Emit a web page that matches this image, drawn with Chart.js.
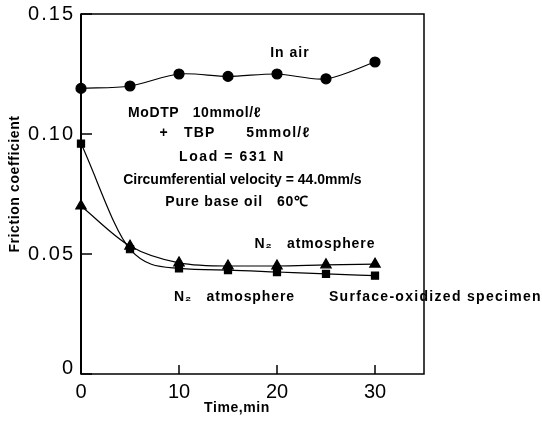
<!DOCTYPE html>
<html>
<head>
<meta charset="utf-8">
<script src="https://cdn.jsdelivr.net/npm/chart.js@4.4.0/dist/chart.umd.min.js"></script>
<style>
  html, body { margin: 0; padding: 0; background: #fff; }
  #wrap { width: 542px; height: 429px; }
</style>
</head>
<body>
<div id="wrap"><canvas id="myChart"></canvas></div>
<script>
let times = [0, 5, 10, 15, 20, 25, 30];
let in_air = [0.119, 0.120, 0.125, 0.124, 0.125, 0.123, 0.130];
let n2_atmosphere = [0.070, 0.0533, 0.0463, 0.045, 0.045, 0.0455, 0.0458];
let surface_oxidized = [0.096, 0.052, 0.044, 0.0433, 0.0425, 0.0417, 0.041];
let x_ticks = [0, 10, 20, 30];
let y_ticks = [0, 0.05, 0.10, 0.15];
let y_tick_labels = ['0', '0.05', '0.10', '0.15'];

let notes = [
    { text: 'In air', x: 19.3, y: 0.1335, sp: 1 },
    { text: 'MoDTP   10mmol/ℓ', x: 4.8, y: 0.1085, sp: 0.6 },
    { text: '+   TBP      5mmol/ℓ', x: 8.0, y: 0.1005, sp: 1.2 },
    { text: 'Load = 631 N', x: 10.0, y: 0.0905, sp: 1.6 },
    { text: 'Circumferential velocity = 44.0mm/s', x: 4.3, y: 0.0808, sp: 0 },
    { text: 'Pure base oil   60℃', x: 8.6, y: 0.0718, sp: 0.8 },
    { text: 'N₂   atmosphere', x: 17.7, y: 0.0542, sp: 0.9 },
    { text: 'N₂   atmosphere', x: 9.5, y: 0.0322, sp: 0.9 },
    { text: 'Surface-oxidized specimen', x: 25.3, y: 0.0322, sp: 1.3 }
];

function pts(ys) {
    return times.map(function (t, i) { return { x: t, y: ys[i] }; });
}

const FONT = '"Liberation Sans", Arial, sans-serif';

let frame = {
    id: 'frame',
    afterDraw: function (chart) {
        let c = chart.ctx;
        let a = chart.chartArea;
        let xs = chart.scales.x;
        let ys = chart.scales.y;
        c.save();
        c.strokeStyle = '#000';
        c.fillStyle = '#000';
        c.lineWidth = 1.5;
        c.strokeRect(a.left, a.top, a.right - a.left, a.bottom - a.top);
        c.lineWidth = 2;
        c.beginPath();
        c.moveTo(a.left, a.top);
        c.lineTo(a.left, a.bottom);
        c.stroke();
        c.lineWidth = 1.5;
        x_ticks.forEach(function (v) {
            let px = xs.getPixelForValue(v);
            c.beginPath();
            c.moveTo(px, a.bottom);
            c.lineTo(px, a.bottom - 9);
            c.stroke();
        });
        // y ticks and their labels
        c.font = '20px ' + FONT;
        c.letterSpacing = '2px';
        c.textAlign = 'right';
        c.textBaseline = 'middle';
        y_ticks.forEach(function (v, i) {
            let py = ys.getPixelForValue(v);
            c.beginPath();
            c.moveTo(a.left, py);
            c.lineTo(a.left + 11, py);
            c.stroke();
            c.fillText(y_tick_labels[i], a.left - 6, Math.min(py, a.bottom - 6));
        });
        // axis titles
        c.font = 'bold 14px ' + FONT;
        c.letterSpacing = '0.6px';
        c.textAlign = 'center';
        c.fillText('Time,min', 237, 408);
        c.save();
        c.translate(15, 184);
        c.rotate(-Math.PI / 2);
        c.fillText('Friction coefficient', 0, 0);
        c.restore();
        // notes in the plot
        c.textAlign = 'left';
        notes.forEach(function (n) {
            c.letterSpacing = n.sp + 'px';
            c.fillText(n.text, xs.getPixelForValue(n.x), ys.getPixelForValue(n.y));
        });
        c.restore();
    }
};

let ctx = document.getElementById('myChart');
new Chart(ctx, {
    type: 'line',
    data: {
        datasets: [
            {
                label: 'In air',
                data: pts(in_air),
                borderColor: '#000',
                backgroundColor: '#000',
                borderWidth: 1.2,
                pointStyle: 'circle',
                pointRadius: 5,
                tension: 0.3,
                clip: false
            },
            {
                label: 'N2 atmosphere',
                data: pts(n2_atmosphere),
                borderColor: '#000',
                backgroundColor: '#000',
                borderWidth: 1.2,
                pointStyle: 'triangle',
                pointRadius: 6,
                cubicInterpolationMode: 'monotone',
                clip: false
            },
            {
                label: 'Surface-oxidized specimen',
                data: pts(surface_oxidized),
                borderColor: '#000',
                backgroundColor: '#000',
                borderWidth: 1.2,
                pointStyle: 'rect',
                pointRadius: 5,
                cubicInterpolationMode: 'monotone',
                clip: false
            }
        ]
    },
    options: {
        responsive: true,
        maintainAspectRatio: false,
        animation: false,
        layout: { padding: { top: 14, right: 118, left: 0, bottom: 0 } },
        plugins: {
            legend: { display: false },
            tooltip: { enabled: false }
        },
        scales: {
            x: {
                type: 'linear',
                min: 0,
                max: 35,
                afterBuildTicks: function (s) {
                    s.ticks = x_ticks.map(function (v) { return { value: v }; });
                },
                afterFit: function (s) { s.height = 55; },
                grid: { display: false, drawTicks: false },
                border: { display: false },
                ticks: {
                    color: '#000',
                    padding: 6,
                    maxRotation: 0,
                    font: { family: FONT, size: 20 }
                }
            },
            y: {
                min: 0,
                max: 0.15,
                afterBuildTicks: function (s) {
                    s.ticks = y_ticks.map(function (v) { return { value: v }; });
                },
                afterFit: function (s) { s.width = 81; },
                grid: { display: false, drawTicks: false },
                border: { display: false },
                ticks: { display: false }
            }
        }
    },
    plugins: [frame]
});
</script>
</body>
</html>
